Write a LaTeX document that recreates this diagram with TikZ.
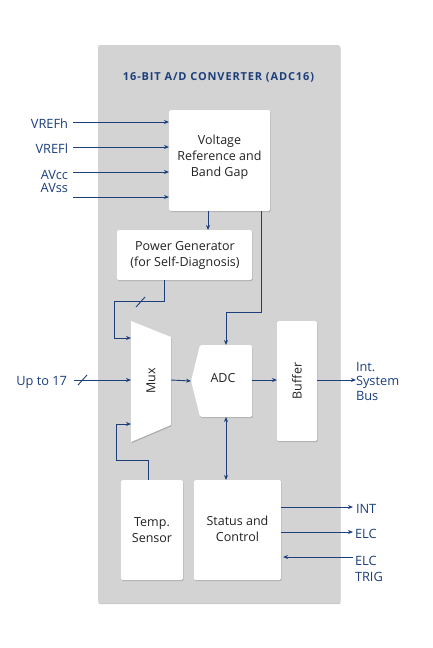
\documentclass[tikz,border=0pt]{standalone}
\usepackage{fontspec}
\setmainfont{Open Sans}
\usetikzlibrary{arrows.meta,shadows,calc}
\definecolor{frameGray}{HTML}{D3D3D3}
\definecolor{lineBlue}{HTML}{1C3F7C}
\definecolor{txtDark}{HTML}{222222}
\begin{document}
\begin{tikzpicture}[x=1pt,y=-1pt,
  every node/.style={inner sep=0pt,outer sep=0pt},
  blk/.style={draw=none,fill=white,rounded corners=1.5pt,
    drop shadow={shadow xshift=0.6pt,shadow yshift=-1.2pt,opacity=0.35,fill=black!60}},
  ghost/.style={draw=none,fill=none},
  btxt/.style={text=txtDark,font=\fontsize{12.5}{16}\selectfont,align=center},
  lbl/.style={text=lineBlue,font=\fontsize{12.8}{15}\selectfont},
  conn/.style={draw=lineBlue,line width=0.9pt},
  arr/.style={conn,-{Stealth[length=5pt,width=4pt]}},
  darr/.style={conn,{Stealth[length=5pt,width=4pt]}-{Stealth[length=5pt,width=4pt]}},
]
\useasboundingbox (0,0) rectangle (432,648);
\fill[white] (0,0) rectangle (432,648);

% frame
\node[fill=frameGray,rounded corners=2pt,minimum width=242pt,minimum height=558pt,
  drop shadow={shadow xshift=0.5pt,shadow yshift=-1.2pt,opacity=0.35,fill=black!60}] (frame) at (219,324) {};
\node[text=lineBlue,font=\bfseries\fontsize{11}{12}\selectfont\addfontfeatures{LetterSpace=8}] (title) at (218.5,77) {16-BIT A/D CONVERTER (ADC16)};

% blocks
\node[blk,minimum width=101pt,minimum height=101pt] (vref) at (219.5,160.5) {};
\node[btxt] (vreft) at (219.5,157) {Voltage\\Reference and\\Band Gap};

\node[blk,minimum width=135pt,minimum height=50pt] (pg) at (184.5,255) {};
\node[btxt] (pgt) at (185,255) {Power Generator\\(for Self-Diagnosis)};

% mux
\node[ghost,minimum width=40pt,minimum height=121pt] (mux) at (151,381.5) {};
\fill[white,drop shadow={shadow xshift=0.6pt,shadow yshift=-1.2pt,opacity=0.35,fill=black!60}]
  (mux.north west) -- ($(mux.north east)+(0,16)$) -- ($(mux.south east)+(0,-17)$) -- (mux.south west) -- cycle;
\node[btxt,rotate=90] (muxt) at (151,381) {Mux};

% adc
\node[ghost,minimum width=52pt,minimum height=72pt] (adc) at (226,381) {};
\fill[white,rounded corners=1.5pt,drop shadow={shadow xshift=0.6pt,shadow yshift=-1.2pt,opacity=0.35,fill=black!60}]
  (adc.north west) -- (adc.north east) -- (adc.south east) -- (adc.south west) -- ($(adc.west)+(-9,0)$) -- cycle;
\node[btxt] (adct) at (223,378) {ADC};
\coordinate (adcin) at ($(adc.west)+(-9,0)$);

\node[blk,minimum width=40pt,minimum height=120pt] (buf) at (297,381) {};
\node[btxt,rotate=90] (buft) at (297,381) {Buffer};

\node[blk,minimum width=62pt,minimum height=100pt] (temp) at (152,530) {};
\node[btxt] (tempt) at (152,530) {Temp.\\Sensor};

\node[blk,minimum width=87pt,minimum height=100pt] (stat) at (237.5,530) {};
\node[btxt] (statt) at (237.5,529) {Status and\\Control};

% input labels
\node[lbl,anchor=east] (lvh) at (68,124) {VREFh};
\node[lbl,anchor=east] (lvl) at (68,149) {VREFl};
\node[lbl,anchor=east,align=right,font=\fontsize{12.8}{13.5}\selectfont] (lav) at (68,181.5) {AVcc\\AVss};
\coordinate (s1) at (73,122);
\coordinate (s2) at (73,147);
\coordinate (s3) at (73,172);
\coordinate (s4) at (73,197);
\draw[arr] (s1) -- (s1 -| vref.west);
\draw[arr] (s2) -- (s2 -| vref.west);
\draw[arr] (s3) -- (s3 -| vref.west);
\draw[arr] (s4) -- (s4 -| vref.west);

% vref -> pg
\draw[arr] (vref.south -| 208,0) -- (pg.north -| 208,0);
% vref -> adc
\draw[arr] (vref.south -| 261,0) |- (226,312) -- (adc.north);
% pg -> mux
\coordinate (pgo) at (pg.south -| 164,0);
\coordinate (m1) at (131,338);
\draw[arr] (pgo) |- (114,301) |- (m1);
\draw[conn] (136,307) -- (145,297);
% temp -> mux
\coordinate (m2) at (131,424);
\draw[arr] (temp.north -| 148,0) |- (116,460) |- (m2);

% up to 17
\node[lbl,anchor=east] (lup) at (67,382) {Up to 17};
\coordinate (s5) at (74,380);
\draw[arr] (s5) -- (s5 -| mux.west);
\draw[conn] (78,385) -- (87,375);

% mux -> adc -> buffer -> bus
\draw[arr] (mux.east |- 0,380) -- (adcin);
\draw[arr] (adc.east |- 0,380) -- (buf.west |- 0,380);
\coordinate (bus) at (356,380);
\draw[arr] (buf.east |- bus) -- (bus);
\node[lbl,anchor=west,align=left,font=\fontsize{12.8}{14.5}\selectfont] (lbus) at (356,381) {Int.\\System\\Bus};

% adc <-> status
\draw[darr] (adc.south) -- (adc.south |- stat.north);

% status outputs
\coordinate (o1) at (353,507);
\coordinate (o2) at (353,532);
\coordinate (o3) at (353,557);
\draw[arr] (stat.east |- o1) -- (o1);
\draw[arr] (stat.east |- o2) -- (o2);
\draw[arr] (o3) -- ($(stat.east |- o3)+(2,0)$);
\node[lbl,anchor=west] (lint) at (356,509) {INT};
\node[lbl,anchor=west] (lelc) at (355,534) {ELC};
\node[lbl,anchor=west,align=left,font=\fontsize{12.8}{16}\selectfont] (ltrig) at (355,569) {ELC\\TRIG};
\end{tikzpicture}
\end{document}
